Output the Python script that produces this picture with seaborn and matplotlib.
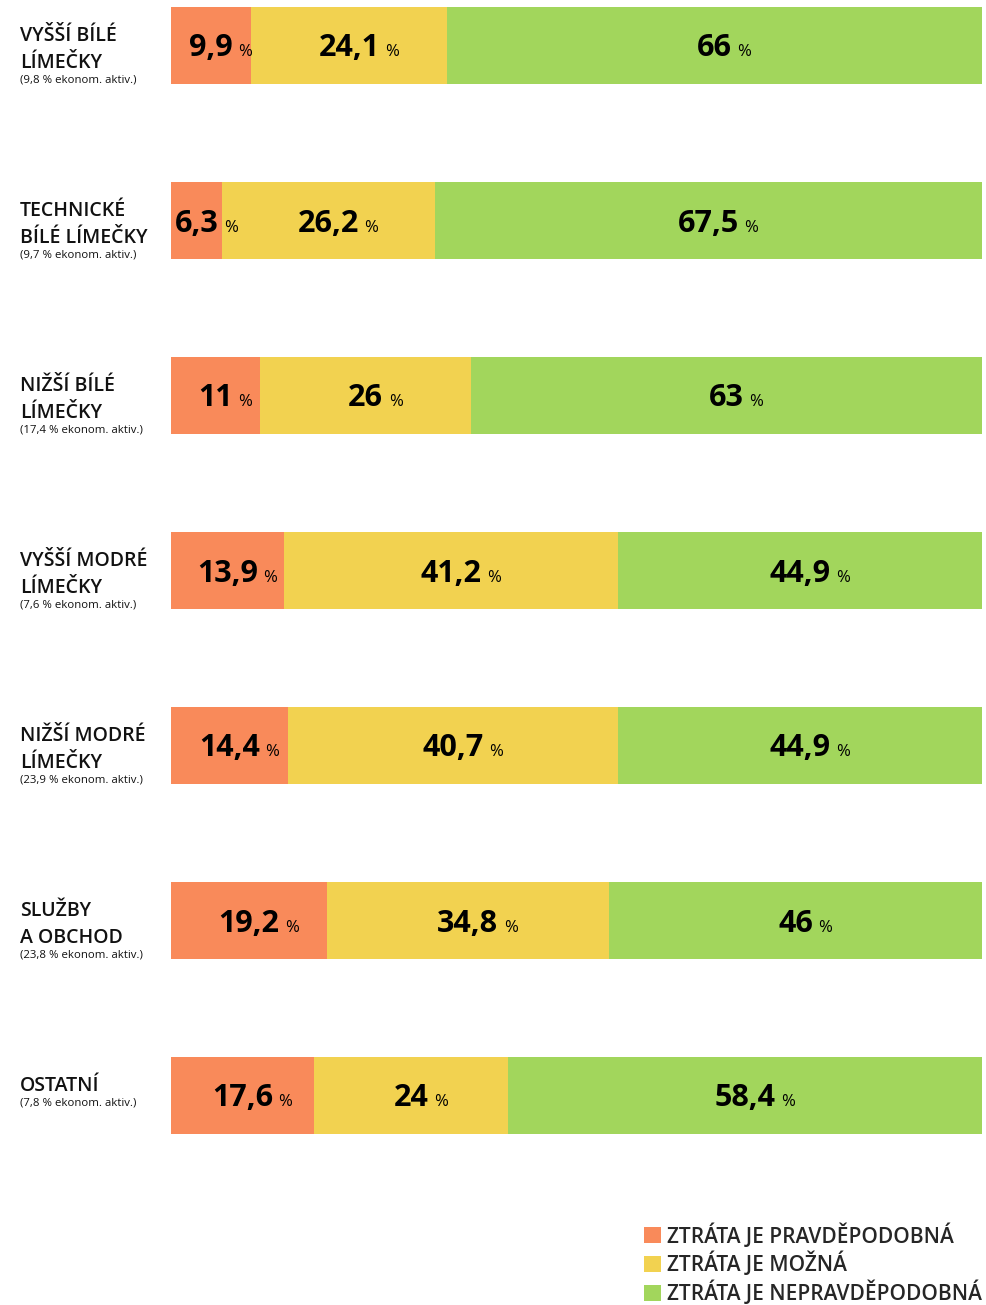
import matplotlib
matplotlib.use("Agg")
import matplotlib.pyplot as plt
import matplotlib.transforms as mtransforms
from matplotlib.patches import Patch
import pandas as pd
import seaborn as sns

# --- data ---
kategorie = [
    "VYŠŠÍ BÍLÉ\nLÍMEČKY",
    "TECHNICKÉ\nBÍLÉ LÍMEČKY",
    "NIŽŠÍ BÍLÉ\nLÍMEČKY",
    "VYŠŠÍ MODRÉ\nLÍMEČKY",
    "NIŽŠÍ MODRÉ\nLÍMEČKY",
    "SLUŽBY\nA OBCHOD",
    "OSTATNÍ",
]
podil_aktiv = ["9,8", "9,7", "17,4", "7,6", "23,9", "23,8", "7,8"]

pravdepodobna = [9.9, 6.3, 11, 13.9, 14.4, 19.2, 17.6]
mozna = [24.1, 26.2, 26, 41.2, 40.7, 34.8, 24]
nepravdepodobna = [66, 67.5, 63, 44.9, 44.9, 46, 58.4]

legenda = ["ZTRÁTA JE PRAVDĚPODOBNÁ", "ZTRÁTA JE MOŽNÁ", "ZTRÁTA JE NEPRAVDĚPODOBNÁ"]
barvy = ["#F98A5A", "#F2D250", "#A2D65C"]

df = pd.DataFrame({
    "kat": kategorie,
    "p": pravdepodobna,
    "m": mozna,
    "n": nepravdepodobna,
})
df["cum_p"] = df["p"]
df["cum_m"] = df["p"] + df["m"]
df["cum_n"] = df["cum_m"] + df["n"]

sns.set_theme(style="white")
plt.rcParams["font.family"] = ["Open Sans", "DejaVu Sans"]

W, H = 987, 1305
fig = plt.figure(figsize=(W / 100, H / 100), dpi=100)
ax = fig.add_axes([171 / W, 0, 811 / W, 1])

# stacked bars: draw the cumulative totals from the longest down
for col, barva in zip(["cum_n", "cum_m", "cum_p"], barvy[::-1]):
    sns.barplot(data=df, x=col, y="kat", orient="h", color=barva,
                saturation=1, width=0.44, linewidth=0, ax=ax)

ax.set_xlim(0, 100)
ax.set_ylim(6 + (H - 1095.5) / 175, -45.5 / 175)
ax.set_axis_off()

# value labels
for i, row in df.iterrows():
    lefts = [0, row["cum_p"], row["cum_m"]]
    for left, val in zip(lefts, [row["p"], row["m"], row["n"]]):
        cx = left + val / 2
        base_y = i + 11 / 175
        num = ax.text(cx, base_y, f"{val:g}".replace(".", ","), ha="center",
                      va="baseline", fontsize=22, fontweight="bold", color="black")
        ax.annotate("%", xy=(1, base_y), xycoords=(num, "data"),
                    xytext=(4, 0), textcoords="offset points",
                    ha="left", va="baseline", fontsize=12, color="black")

# category labels on the left
tr = mtransforms.blended_transform_factory(fig.transFigure, ax.transData)
for i, (kat, pod) in enumerate(zip(kategorie, podil_aktiv)):
    lab = ax.text(20 / W, i - 0.22 + 0.11, kat, transform=tr, ha="left", va="top",
                  fontsize=14, fontweight="semibold", linespacing=1.45, color="#111111")
    ax.annotate(f"({pod} % ekonom. aktiv.)", xy=(0, 0), xycoords=lab,
                xytext=(0, -1), textcoords="offset points",
                ha="left", va="top", fontsize=8.2, color="#111111")

handles = [Patch(facecolor=b, edgecolor="none") for b in barvy]
fig.legend(handles, legenda, loc="lower right", bbox_to_anchor=(982 / W, 0.0),
           frameon=False, handlelength=0.8, handleheight=0.8,
           handletextpad=0.3, labelspacing=0.2, borderpad=0, borderaxespad=0,
           prop={"size": 15, "weight": "semibold"})

fig.savefig("out.png", dpi=100)
